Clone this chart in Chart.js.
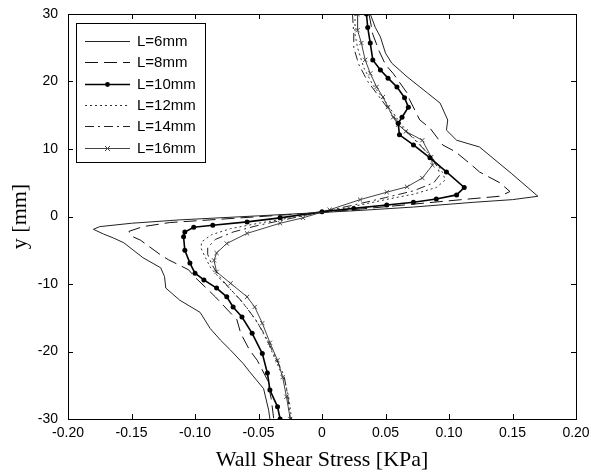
<!DOCTYPE html>
<html>
<head>
<meta charset="utf-8">
<script src="https://cdn.jsdelivr.net/npm/chart.js@4.4.1/dist/chart.umd.min.js"></script>
<style>
  html, body { margin: 0; padding: 0; background: #fff; }
  #wrap { width: 591px; height: 475px; }
</style>
</head>
<body>
<div id="wrap"><canvas id="c" width="591" height="475"></canvas></div>
<script>
// ---- data (x = wall shear stress [KPa], y = position [mm]) ----
const seriesLabels = ['L=6mm', 'L=8mm', 'L=10mm', 'L=12mm', 'L=14mm', 'L=16mm'];
const xTicks = [-0.2, -0.15, -0.1, -0.05, 0, 0.05, 0.1, 0.15, 0.2];
const yTicks = [-30, -20, -10, 0, 10, 20, 30];

const L6 = [[0.038,30],[0.042,28],[0.046,26.6],[0.050,24.2],[0.055,22.7],[0.067,20.7],[0.083,18.3],[0.093,16.8],
  [0.099,14.3],[0.098,12.8],[0.106,11.3],[0.124,10.3],[0.149,6.4],[0.170,3.0],[0.150,2.5],[0.119,2.1],[0.072,1.4],
  [0.030,0.9],[0,0.6],[-0.05,0.1],[-0.112,-0.5],[-0.150,-1.0],[-0.175,-1.5],[-0.180,-1.9],[-0.172,-2.6],[-0.164,-3.2],
  [-0.156,-3.9],[-0.141,-6.1],[-0.127,-7.6],[-0.124,-8.9],[-0.123,-10.6],[-0.112,-12.4],[-0.096,-14.2],[-0.088,-16.6],
  [-0.080,-18.3],[-0.072,-19.8],[-0.062,-21.8],[-0.057,-23.0],[-0.046,-25.5],[-0.042,-28.7],[-0.041,-30]];

const L8 = [[0.037,30],[0.040,27],[0.045,24.5],[0.050,22.5],[0.056,21.2],[0.067,18.3],[0.069,17.3],[0.077,14.3],
  [0.085,13.1],[0.095,10.6],[0.105,9.6],[0.118,7.6],[0.124,6.6],[0.140,5.0],[0.148,3.7],[0.140,3.0],[0.110,2.5],
  [0.070,1.8],[0.030,1.1],[0,0.6],[-0.04,0.1],[-0.08,-0.4],[-0.12,-0.9],[-0.141,-1.5],[-0.152,-2.2],[-0.150,-2.9],
  [-0.143,-3.5],[-0.127,-5.7],[-0.121,-6.4],[-0.105,-7.9],[-0.100,-9.0],[-0.084,-11.9],[-0.078,-13.1],[-0.067,-15.3],
  [-0.064,-17.3],[-0.057,-19.8],[-0.051,-21.3],[-0.043,-24.2],[-0.040,-27],[-0.038,-30]];

const L10 = [[0.035,30],[0.036,28],[0.038,25.7],[0.040,23.2],[0.046,21.7],[0.052,20.5],[0.059,19.2],[0.065,17.6],
  [0.068,16.2],[0.063,14.7],[0.060,13.8],[0.061,12.1],[0.072,10.6],[0.085,8.7],[0.098,6.6],[0.112,4.3],[0.106,3.2],
  [0.090,2.6],[0.072,2.1],[0.051,1.7],[0.025,1.2],[0,0.7],[-0.033,-0.2],[-0.059,-0.8],[-0.086,-1.3],[-0.101,-1.6],
  [-0.108,-2.3],[-0.109,-3.0],[-0.108,-5.0],[-0.104,-6.9],[-0.100,-8.4],[-0.093,-9.4],[-0.083,-10.6],[-0.075,-11.9],
  [-0.070,-13.4],[-0.063,-14.9],[-0.055,-17.3],[-0.047,-20.3],[-0.043,-23.2],[-0.041,-25.7],[-0.035,-28.2],[-0.033,-30]];

const L12 = [[0.026,30],[0.026,27],[0.028,25],[0.033,22],[0.040,19.5],[0.050,17],[0.058,14.8],[0.066,12.8],
  [0.078,10.5],[0.089,8.2],[0.095,6.5],[0.097,5.4],[0.090,4.3],[0.072,3.3],[0.050,2.5],[0.025,1.5],[0,0.6],
  [-0.025,-0.2],[-0.050,-1.0],[-0.072,-1.8],[-0.087,-2.7],[-0.095,-3.8],[-0.095,-4.8],[-0.092,-6.0],[-0.088,-7.5],
  [-0.080,-9.3],[-0.070,-11.2],[-0.060,-13.3],[-0.051,-15.6],[-0.043,-18.5],[-0.036,-21.5],[-0.029,-24.5],
  [-0.026,-27],[-0.024,-30]];

const L14 = [[0.024,30],[0.025,27],[0.025,25],[0.029,22.5],[0.036,20],[0.046,17.5],[0.055,15.2],[0.063,13.2],
  [0.075,11],[0.085,9],[0.091,7.3],[0.093,6.2],[0.088,5.0],[0.072,3.8],[0.050,2.8],[0.025,1.7],[0,0.7],
  [-0.025,-0.3],[-0.050,-1.3],[-0.070,-2.3],[-0.084,-3.4],[-0.090,-4.6],[-0.090,-5.6],[-0.087,-7],[-0.082,-8.6],
  [-0.074,-10.4],[-0.064,-12.4],[-0.055,-14.6],[-0.046,-17.2],[-0.038,-20.3],[-0.030,-23.5],[-0.027,-26.5],[-0.025,-30]];

const L16 = [[0.028,30],[0.028,27.6],[0.031,25.7],[0.034,23.2],[0.038,21.2],[0.043,19.2],[0.048,17.7],[0.052,16.2],
  [0.056,14.7],[0.060,13.6],[0.066,12.6],[0.079,11.3],[0.086,8.8],[0.087,7.6],[0.079,5.7],[0.067,4.4],[0.051,3.6],
  [0.030,2.5],[0.006,1.0],[-0.015,-0.2],[-0.033,-1.0],[-0.059,-2.5],[-0.075,-4.0],[-0.083,-5.4],[-0.085,-6.5],
  [-0.083,-8.2],[-0.072,-9.9],[-0.059,-11.9],[-0.053,-13.4],[-0.047,-15.8],[-0.041,-18.7],[-0.035,-21.3],
  [-0.031,-23.8],[-0.028,-26.7],[-0.025,-30]];

const allSeries = [L6, L8, L10, L12, L14, L16];

// ---- styles ----
const styles = [
  { color: '#222', width: 1, dash: [], point: false },
  { color: '#111', width: 1, dash: [13, 6], point: false },
  { color: '#000', width: 1.6, dash: [], point: 'circle', radius: 2.5 },
  { color: '#333', width: 1, dash: [2, 3], point: false },
  { color: '#222', width: 1, dash: [9, 4, 2, 4], point: false },
  { color: '#444', width: 1, dash: [], point: 'crossRot', radius: 3 }
];

const datasets = allSeries.map((s, i) => {
  const st = styles[i];
  return {
    label: seriesLabels[i],
    data: s.map(p => ({ x: p[0], y: p[1] })),
    borderColor: st.color,
    backgroundColor: st.color,
    borderWidth: st.width,
    borderDash: st.dash,
    pointStyle: st.point || 'circle',
    pointRadius: st.point ? st.radius : 0,
    pointBorderWidth: st.point === 'crossRot' ? 1 : 0,
    pointBorderColor: st.color,
    pointBackgroundColor: st.color,
    tension: 0,
    fill: false
  };
});

const frameTicks = {
  id: 'frameTicks',
  afterDatasetsDraw(chart) {
    const { ctx, chartArea: a, scales } = chart;
    ctx.save();
    ctx.strokeStyle = '#000';
    ctx.lineWidth = 1;
    ctx.setLineDash([]);
    ctx.beginPath();
    xTicks.forEach(v => {
      const px = Math.round(scales.x.getPixelForValue(v)) + 0.5;
      ctx.moveTo(px, a.bottom); ctx.lineTo(px, a.bottom - 5);
      ctx.moveTo(px, a.top); ctx.lineTo(px, a.top + 5);
    });
    yTicks.forEach(v => {
      const py = Math.round(scales.y.getPixelForValue(v)) + 0.5;
      ctx.moveTo(a.left, py); ctx.lineTo(a.left + 5, py);
      ctx.moveTo(a.right, py); ctx.lineTo(a.right - 5, py);
    });
    ctx.stroke();
    ctx.strokeRect(Math.round(a.left) + 0.5, Math.round(a.top) + 0.5,
                   Math.round(a.right - a.left), Math.round(a.bottom - a.top));

    // legend
    const bx = 76.5, by = 23.5, bw = 129, bh = 139;
    ctx.fillStyle = '#fff';
    ctx.fillRect(bx, by, bw, bh);
    ctx.strokeStyle = '#000';
    ctx.strokeRect(bx, by, bw, bh);
    ctx.font = '15px "Liberation Sans", Arial, sans-serif';
    ctx.textBaseline = 'middle';
    ctx.textAlign = 'left';
    chart.data.datasets.forEach((ds, i) => {
      const st = styles[i];
      const y = Math.round(41 + i * 21.3) + 0.5;
      ctx.strokeStyle = st.color;
      ctx.lineWidth = st.width;
      ctx.setLineDash(st.dash);
      ctx.beginPath();
      ctx.moveTo(85, y); ctx.lineTo(130, y);
      ctx.stroke();
      ctx.setLineDash([]);
      if (st.point === 'circle') {
        ctx.fillStyle = st.color;
        ctx.beginPath(); ctx.arc(107.5, y, 2.4, 0, Math.PI * 2); ctx.fill();
      } else if (st.point === 'crossRot') {
        ctx.lineWidth = 1;
        ctx.beginPath();
        ctx.moveTo(105, y - 2.5); ctx.lineTo(110, y + 2.5);
        ctx.moveTo(110, y - 2.5); ctx.lineTo(105, y + 2.5);
        ctx.stroke();
      }
      ctx.fillStyle = '#000';
      ctx.fillText(ds.label, 137, y);
    });
    ctx.restore();
  }
};

new Chart(document.getElementById('c'), {
  type: 'line',
  data: { datasets },
  options: {
    responsive: false,
    animation: false,
    devicePixelRatio: 1,
    layout: { padding: { top: 14, right: 15, left: 0, bottom: 0 } },
    plugins: { legend: { display: false }, tooltip: { enabled: false } },
    scales: {
      x: {
        type: 'linear', min: -0.2, max: 0.2,
        afterBuildTicks: s => { s.ticks = xTicks.map(v => ({ value: v })); },
        afterFit: s => { s.height = 56; s.paddingLeft = 0; s.paddingRight = 0; },
        grid: { display: false, drawTicks: false },
        border: { display: false },
        ticks: { color: '#000', padding: 6, maxRotation: 0, autoSkip: false,
                 font: { family: '"Liberation Sans", Arial, sans-serif', size: 14 } },
        title: { display: true, text: 'Wall Shear Stress [KPa]', color: '#000',
                 padding: { top: 0, bottom: 2 },
                 font: { family: '"Liberation Serif", "Times New Roman", serif', size: 22 } }
      },
      y: {
        type: 'linear', min: -30, max: 30,
        afterBuildTicks: s => { s.ticks = yTicks.map(v => ({ value: v })); },
        afterFit: s => { s.width = 68; s.paddingTop = 0; s.paddingBottom = 0; },
        grid: { display: false, drawTicks: false },
        border: { display: false },
        ticks: { color: '#000', padding: 10, autoSkip: false,
                 font: { family: '"Liberation Sans", Arial, sans-serif', size: 14 } },
        title: { display: true, text: 'y [mm]', color: '#000',
                 padding: { top: 7, bottom: 0 },
                 font: { family: '"Liberation Serif", "Times New Roman", serif', size: 22 } }
      }
    }
  },
  plugins: [frameTicks]
});
</script>
</body>
</html>
